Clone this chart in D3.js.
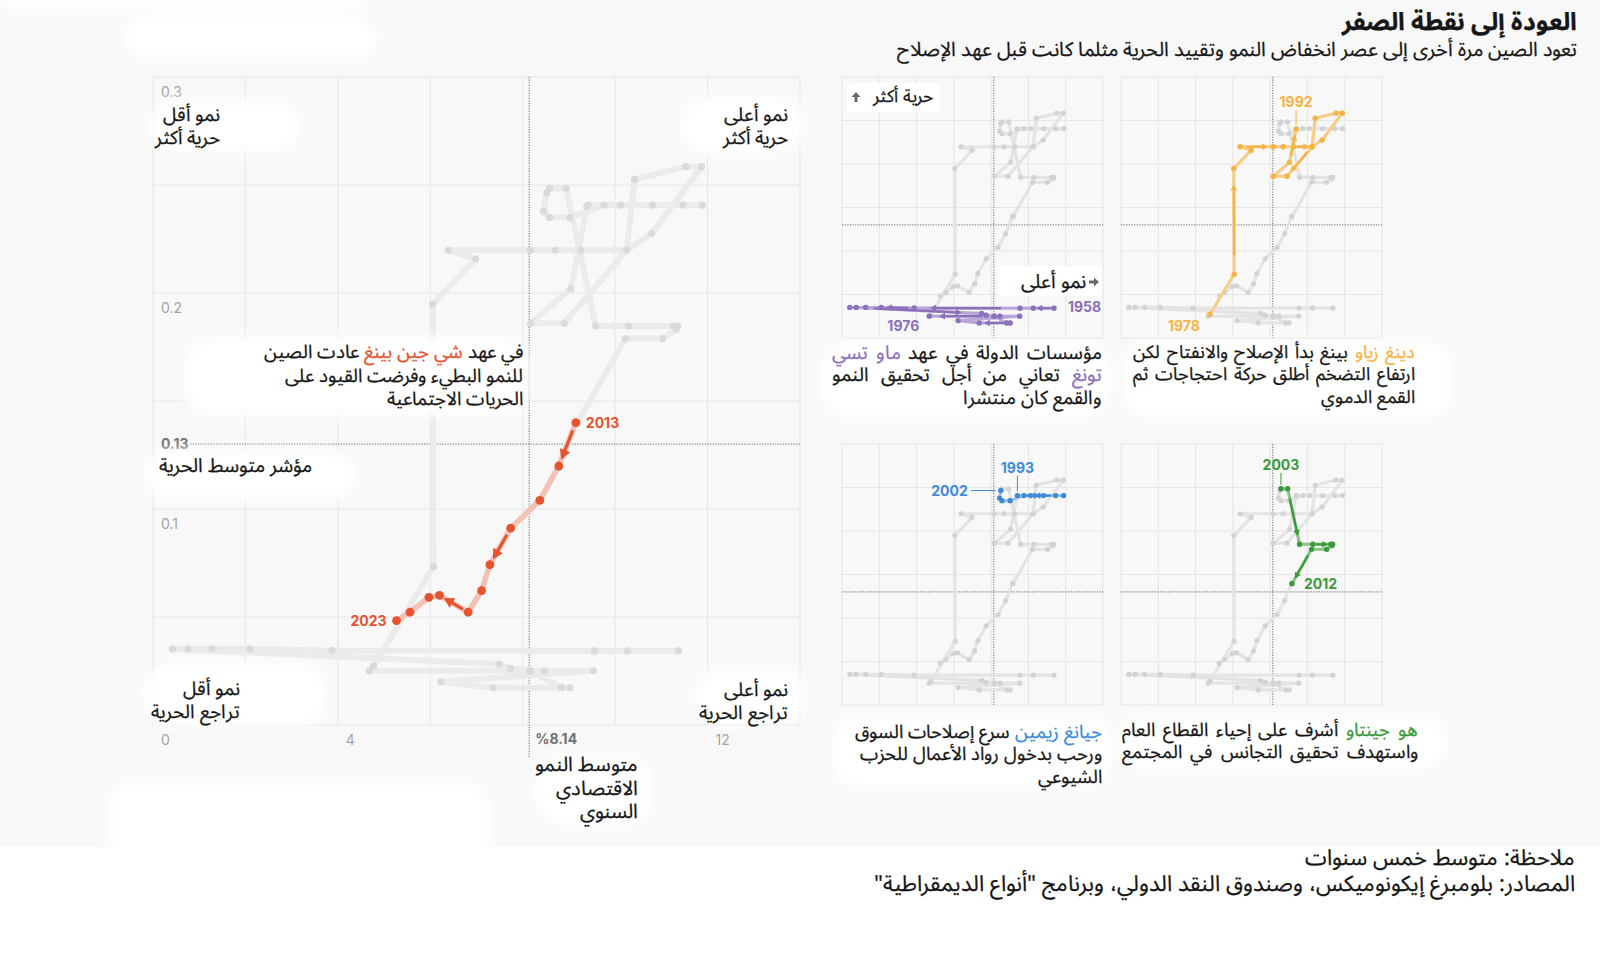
<!DOCTYPE html>
<html lang="ar"><head><meta charset="utf-8">
<script src="https://cdn.jsdelivr.net/npm/d3@7/dist/d3.min.js"></script>
<style>
@font-face{font-family:"ArSans";src:local("Noto Sans Arabic"),local("NotoSansArabic-Regular"),local("Noto Sans Arabic Regular");font-weight:400;ascent-override:90%;descent-override:26.4%;line-gap-override:0%;}
@font-face{font-family:"ArSans";src:local("Noto Sans Arabic Bold"),local("NotoSansArabic-Bold");font-weight:700;ascent-override:90%;descent-override:26.4%;line-gap-override:0%;}
html,body{margin:0;padding:0;background:#fff;}
#wrap{position:relative;width:1600px;height:959px;overflow:hidden;background:#fff;font-family:"ArSans","Noto Sans Arabic","DejaVu Sans",sans-serif;}
#chart{position:absolute;left:0;top:0;}
.lbl{position:absolute;direction:rtl;text-align:right;white-space:nowrap;color:#161616;-webkit-text-stroke:0.25px #161616;}
.lbl span{-webkit-text-stroke:0.25px currentColor;}
</style></head>
<body><div id="wrap"><svg id="chart" width="1600" height="959"></svg></div>
<script>
// ---------- DATA (5-year averages) ----------
// GDP growth (%), in path order 1958 -> 2023
const growth = [
  11.37,10.26,9.55,3.87,2.10,1.27,0.76,0.42,7.49,7.73,8.16,8.84,9.02,7.36,6.23,9.53,8.47,8.16,4.68,
  4.77,6.07,6.05,6.98,6.39,8.16,8.70,9.26,10.25,10.79,11.87,11.53,10.42,10.25,8.90,8.17,9.04,9.39,
  9.41,10.81,11.89,11.46,10.12,9.76,9.02,8.58,8.45,8.52,
  8.58,8.94,9.58,10.29,11.26,11.35,11.32,11.03,10.22,9.17,
  9.15,8.78,8.37,7.74,7.29,7.11,6.82,6.20,5.97,5.56,5.27
];
// liberal democracy index
const freedom = [
  0.0343,0.0343,0.0343,0.0344,0.0352,0.0352,0.0352,0.0352,0.0282,0.0262,0.0251,0.0173,0.0173,0.0173,0.0200,0.0251,0.0251,0.0251,0.0251,
  0.0273,0.0733,0.1948,0.2157,0.2198,0.2198,0.2198,0.2198,0.2198,0.2276,0.2585,0.2585,0.2526,0.2198,0.1860,0.1860,0.2019,0.2400,
  0.2407,0.2407,0.2407,0.2407,0.2407,0.2407,0.2349,0.2349,0.2378,0.2465,
  0.2485,0.2485,0.1847,0.1847,0.1847,0.1847,0.1832,0.1789,0.1789,0.1395,
  0.1400,0.1199,0.1040,0.0911,0.0742,0.0622,0.0522,0.0600,0.0591,0.0522,0.0483
];
const leaderNames = ["ماو تسي تونغ","دينغ زياو بينغ","جيانغ زيمين","هو جينتاو","شي جين بينغ"];
const leaderFrom = [0,19,37,47,57];
const leaderTo   = [18,36,46,56,67];
const leaderFromYear = ["1958","1978","1993","2003","2013"];
const leaderToYear   = ["1976","1992","2002","2012","2023"];
// segments (counted from each leader's first point) that carry a direction arrow
const arrowSegs = [[0,2,3,7,12,17],[1,4,7,10,13,16],[0,3,6],[1,3,8],[0,3,6]];
const meanGrowth = 8.14, meanFreedom = 0.13;
const xGrid = [0,2,4,6,8,10,12,14];
const yGrid = [0,0.05,0.1,0.15,0.2,0.25,0.3];
const xTickVals = [0,4,12];
const yTickVals = [0.3,0.2,0.1];

// ---------- STYLE ----------
const leaderDot  = ["#8b70ba","#f5b443","#3f8bd6","#3a9a3a","#e5532f"];
const leaderLine = ["#b7a6d8","#f8cd84","#9fc4ec","#88c784","#f4c2b4"];
const NUMF = "Inter, 'Liberation Sans', sans-serif";

const pts = growth.map((g,i)=>({g, f:freedom[i]}));
const svg = d3.select('#chart');
const defs = svg.append('defs');
defs.append('filter').attr('id','blur').attr('x','-20%').attr('y','-40%').attr('width','140%').attr('height','180%')
  .append('feGaussianBlur').attr('stdDeviation',6);

svg.append('rect').attr('width',1600).attr('height',847).attr('fill','#f8f8f8');

const chartLayer = svg.append('g');
const haloLayer = svg.append('g');
const topLayer = svg.append('g');

function arrow(g, a, b, color, w, head, t0, t1){
  const ax=a[0]+(b[0]-a[0])*t0, ay=a[1]+(b[1]-a[1])*t0;
  const bx=a[0]+(b[0]-a[0])*t1, by=a[1]+(b[1]-a[1])*t1;
  const ang=Math.atan2(by-ay,bx-ax);
  const len=Math.hypot(bx-ax,by-ay);
  if(len<head*1.2) return;
  const sx=bx-Math.cos(ang)*head*0.8, sy=by-Math.sin(ang)*head*0.8;
  g.append('line').attr('x1',ax).attr('y1',ay).attr('x2',sx).attr('y2',sy)
    .attr('stroke',color).attr('stroke-width',w).attr('stroke-linecap','butt');
  const hw=head*0.55;
  const p=[[bx,by],
    [bx-Math.cos(ang)*head+Math.cos(ang+Math.PI/2)*hw, by-Math.sin(ang)*head+Math.sin(ang+Math.PI/2)*hw],
    [bx-Math.cos(ang)*head-Math.cos(ang+Math.PI/2)*hw, by-Math.sin(ang)*head-Math.sin(ang+Math.PI/2)*hw]];
  g.append('polygon').attr('points',p.map(q=>q.join(',')).join(' ')).attr('fill',color);
}

function panel(x0,y0,w,h,o){
  const x=d3.scaleLinear().domain([0,14]).range([x0,x0+w]);
  const y=d3.scaleLinear().domain([0,0.3]).range([y0+h,y0]);
  const g=chartLayer.append('g');
  g.selectAll('line.vx').data(xGrid).join('line').attr('class','vx')
    .attr('x1',d=>x(d)).attr('x2',d=>x(d)).attr('y1',y0).attr('y2',y0+h)
    .attr('stroke','#e6e6e6').attr('stroke-width',1);
  g.selectAll('line.hy').data(yGrid).join('line').attr('class','hy')
    .attr('y1',d=>y(d)).attr('y2',d=>y(d)).attr('x1',x0).attr('x2',x0+w)
    .attr('stroke','#e6e6e6').attr('stroke-width',1);
  g.append('line').attr('x1',x(meanGrowth)).attr('x2',x(meanGrowth)).attr('y1',y0).attr('y2',y0+h+o.vExt)
    .attr('stroke','#8a8a8a').attr('stroke-width',1.2).attr('stroke-dasharray','1.3,1.3');
  g.append('line').attr('x1',x0+o.hStart).attr('x2',x0+w).attr('y1',y(meanFreedom)).attr('y2',y(meanFreedom))
    .attr('stroke','#8a8a8a').attr('stroke-width',1.2).attr('stroke-dasharray','1.3,1.3');
  const line=d3.line().x(d=>x(d.g)).y(d=>y(d.f));
  g.append('path').attr('d',line(pts)).attr('fill','none').attr('stroke',o.grayLine)
    .attr('stroke-width',o.lw).attr('stroke-linejoin','round').attr('stroke-linecap','round');
  g.selectAll('circle.gp').data(pts).join('circle').attr('class','gp')
    .attr('cx',d=>x(d.g)).attr('cy',d=>y(d.f)).attr('r',o.r).attr('fill',o.grayDot);
  const k=o.hl;
  const seg=pts.slice(leaderFrom[k],leaderTo[k]+1);
  g.append('path').attr('d',line(seg)).attr('fill','none').attr('stroke',leaderLine[k])
    .attr('stroke-width',o.hlw).attr('stroke-linejoin','round').attr('stroke-linecap','round');
  arrowSegs[k].forEach(i=>{
    if(i<seg.length-1)
      arrow(g,[x(seg[i].g),y(seg[i].f)],[x(seg[i+1].g),y(seg[i+1].f)],leaderDot[k],o.aw,o.head,0.18,0.85);
  });
  g.selectAll('circle.hp').data(seg).join('circle').attr('class','hp')
    .attr('cx',d=>x(d.g)).attr('cy',d=>y(d.f)).attr('r',o.hr).attr('fill',leaderDot[k]);
  return {x,y,seg};
}

const small = {vExt:0,hStart:0,grayLine:'#e4e4e4',grayDot:'#d3d3d3',lw:3.2,r:2.6,hlw:3,hr:2.7,aw:2.2,head:6};
const M = panel(153,77,647,648,{vExt:32,hStart:37,grayLine:'#ebebeb',grayDot:'#dadada',lw:6,r:3.6,hl:4,hlw:5.5,hr:4.4,aw:3,head:10});
const P = [
  panel(842,77,261,261,Object.assign({hl:0},small)),
  panel(1121,77,261,261,Object.assign({hl:1},small)),
  panel(842,444,261,261,Object.assign({hl:2},small)),
  panel(1121,444,261,261,Object.assign({hl:3},small))
];

// ---------- axis tick labels (main) ----------
const tk=chartLayer.append('g').attr('font-family',NUMF).attr('font-size',14).attr('fill','#a3a3a3');
tk.selectAll('text.xt').data(xTickVals).join('text').attr('class','xt')
  .attr('x',d=>M.x(d)+8).attr('y',745).text(d=>d);
tk.selectAll('text.yt').data(yTickVals).join('text').attr('class','yt')
  .attr('x',161).attr('y',d=>M.y(d)+20).text(d=>d);
tk.append('text').attr('x',161).attr('y',M.y(meanFreedom)+5).attr('fill','#707070').attr('font-weight',700).text(meanFreedom);
tk.append('text').attr('x',M.x(meanGrowth)+6).attr('y',744).attr('fill','#707070').attr('font-weight',700).text('%'+meanGrowth);

// ---------- halos ----------
const halos=[[0,-10,372,12],[122,15,378,61],[107,780,490,860],[148,100,301,152],[679,97,806,153],[143,663,327,727],
  [694,668,806,724],[143,450,357,500],[184,337,530,416],[535,755,653,826],[821,342,1112,418],[1122,342,1454,418],
  [832,714,1112,790],[1117,714,1449,770]];
haloLayer.selectAll('rect').data(halos).join('rect')
  .attr('x',d=>d[0]).attr('y',d=>d[1]).attr('width',d=>d[2]-d[0]).attr('height',d=>d[3]-d[1])
  .attr('rx',28).attr('fill','#fff').attr('filter','url(#blur)');
topLayer.append('rect').attr('x',847).attr('y',83).attr('width',93).attr('height',29).attr('fill','#fff').attr('rx',3);
topLayer.append('rect').attr('x',998).attr('y',266).attr('width',104).attr('height',30).attr('fill','#fff').attr('rx',3);
function icon(cx,cy,ang){
  const g=topLayer.append('g').attr('transform',`translate(${cx},${cy}) rotate(${ang})`);
  g.append('path').attr('d','M0,-5 L4.5,0 L1.5,0 L1.5,5 L-1.5,5 L-1.5,0 L-4.5,0 Z').attr('fill','#6a6a6a');
}
icon(856,97,0);
icon(1094,282,90);

// ---------- year labels ----------
const yl=topLayer.append('g').attr('font-family',NUMF).attr('font-weight',700).attr('font-size',14);
function yearLbl(txt,x,cy,color,anchor){
  yl.append('text').attr('x',x).attr('y',cy+5).attr('fill',color).attr('text-anchor',anchor||'start').text(txt);
}
const ends=(k,which)=>pts[which?leaderTo[k]:leaderFrom[k]];
{ const a=ends(4,0), b=ends(4,1);
  yearLbl(leaderFromYear[4],M.x(a.g)+10,M.y(a.f),leaderDot[4]);
  yearLbl(leaderToYear[4],M.x(b.g)-10,M.y(b.f),leaderDot[4],'end'); }
{ const p=P[0]; const a=ends(0,0), b=ends(0,1);
  yearLbl(leaderFromYear[0],p.x(a.g)+14,p.y(a.f)-1,leaderDot[0]);
  yearLbl(leaderToYear[0],p.x(b.g)-10,p.y(b.f)+10,leaderDot[0],'end'); }
{ const p=P[1]; const a=ends(1,0), b=ends(1,1);
  yearLbl(leaderFromYear[1],p.x(a.g)-10,p.y(a.f)+12,leaderDot[1],'end');
  yearLbl(leaderToYear[1],p.x(b.g),p.y(b.f)-27,leaderDot[1],'middle');
  topLayer.append('line').attr('x1',p.x(b.g)).attr('x2',p.x(b.g)).attr('y1',p.y(b.f)-19).attr('y2',p.y(b.f)-4).attr('stroke',leaderDot[1]).attr('stroke-width',1); }
{ const p=P[2]; const a=ends(2,0), b=ends(2,1);
  yearLbl(leaderFromYear[2],p.x(a.g),p.y(a.f)-28,leaderDot[2],'middle');
  topLayer.append('line').attr('x1',p.x(a.g)).attr('x2',p.x(a.g)).attr('y1',p.y(a.f)-20).attr('y2',p.y(a.f)-4).attr('stroke',leaderDot[2]).attr('stroke-width',1);
  yearLbl(leaderToYear[2],p.x(b.g)-33,p.y(b.f),leaderDot[2],'end');
  topLayer.append('line').attr('x1',p.x(b.g)-30).attr('x2',p.x(b.g)-5).attr('y1',p.y(b.f)).attr('y2',p.y(b.f)).attr('stroke',leaderDot[2]).attr('stroke-width',1); }
{ const p=P[3]; const a=ends(3,0), b=ends(3,1);
  yearLbl(leaderFromYear[3],p.x(a.g),p.y(a.f)-24,leaderDot[3],'middle');
  topLayer.append('line').attr('x1',p.x(a.g)).attr('x2',p.x(a.g)).attr('y1',p.y(a.f)-16).attr('y2',p.y(a.f)-4).attr('stroke',leaderDot[3]).attr('stroke-width',1);
  yearLbl(leaderToYear[3],p.x(b.g)+12,p.y(b.f),leaderDot[3]); }

// ---------- HTML text ----------
const wrap=d3.select('#wrap');
function lbl(right,cy,lines,fs,lh,opt){
  opt=opt||{};
  const nj = opt.jn==null ? lines.length-1 : opt.jn;
  lines.forEach((t,i)=>{
    const d=wrap.append('div').attr('class','lbl')
      .style('right',(1600-right)+'px').style('top',(cy-lh/2+i*lh)+'px')
      .style('font-size',fs+'px').style('line-height',lh+'px');
    if(opt.weight) d.style('font-weight',opt.weight);
    d.html(t);
    if(opt.w && i<nj){
      const nat=d.node().getBoundingClientRect().width;
      if(nat<opt.w){
        d.style('width',opt.w+'px').style('text-align','justify').style('text-align-last','justify').style('white-space','normal');
      }
    }
  });
}
const c=(k,t)=>`<span style="color:${leaderDot[k]}">${t}</span>`;
function drawText(){
lbl(1577,22,['العودة إلى نقطة الصفر'],24.5,30,{weight:700});
lbl(1577,49,['تعود الصين مرة أخرى إلى عصر انخفاض النمو وتقييد الحرية مثلما كانت قبل عهد الإصلاح'],19.8,25);

lbl(220,115,['نمو أقل','حرية أكثر'],19,23);
lbl(788,115,['نمو أعلى','حرية أكثر'],19,23);
lbl(240,689,['نمو أقل','تراجع الحرية'],19,23);
lbl(788,690,['نمو أعلى','تراجع الحرية'],19,23);
lbl(312,466,['مؤشر متوسط الحرية'],19.4,23);
lbl(523,353,['في عهد '+c(4,'شي جين بينغ')+' عادت الصين','للنمو البطيء وفرضت القيود على','الحريات الاجتماعية'],18.7,23.5);
lbl(638,765,['متوسط النمو','الاقتصادي','السنوي'],20,23.5);

lbl(933,97,['حرية أكثر'],17.5,22);
lbl(1086,282,['نمو أعلى'],19.5,22);

lbl(1102,353,['مؤسسات الدولة في عهد '+c(0,'ماو تسي'),c(0,'تونغ')+' تعاني من أجل تحقيق النمو','والقمع كان منتشرا'],19,22.5,{w:270});
lbl(1415,353,[c(1,'دينغ زياو')+' بينغ بدأ الإصلاح والانفتاح لكن','ارتفاع التضخم أطلق حركة احتجاجات ثم','القمع الدموي'],18,22.5,{w:282});
lbl(1102,732,[c(2,'جيانغ زيمين')+' سرع إصلاحات السوق','ورحب بدخول رواد الأعمال للحزب','الشيوعي'],18.5,22.5,{w:242});
lbl(1418,730,[c(3,'هو جينتاو')+' أشرف على إحياء القطاع العام','واستهدف تحقيق التجانس في المجتمع'],18.5,22.5,{w:296,jn:2});

lbl(1575,858,['ملاحظة: متوسط خمس سنوات','المصادر: بلومبرغ إيكونوميكس، وصندوق النقد الدولي، وبرنامج "أنواع  الديمقراطية"'],22,26);
}
if(document.fonts && document.fonts.load){
  Promise.all([document.fonts.load('19px ArSans','ع'),document.fonts.load('bold 19px ArSans','ع')])
    .catch(()=>{}).then(drawText);
} else drawText();
</script></body></html>
